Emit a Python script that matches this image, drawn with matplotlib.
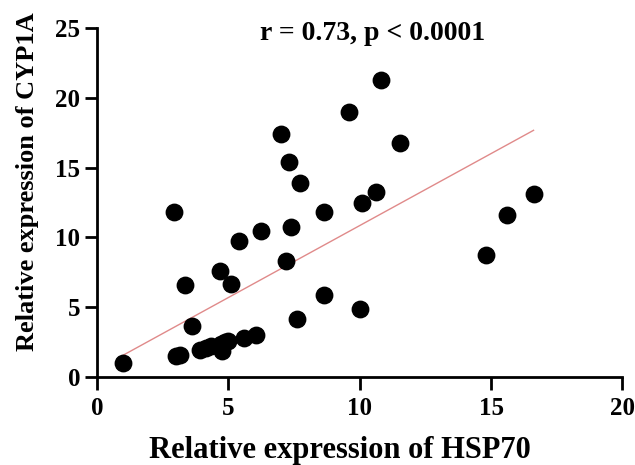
import numpy as np
import matplotlib.pyplot as plt

# HSP70 vs CYP1A relative expression
hsp70 = [0.98, 2.93, 3.0, 3.15, 3.33, 3.6, 3.9, 4.15, 4.35, 4.68, 4.7, 4.75, 4.85,
         5.0, 5.1, 5.41, 5.6, 6.05, 6.23, 7.0, 7.19, 7.32, 7.4, 7.63, 7.71, 8.64,
         8.64, 9.6, 10.0, 10.1, 10.62, 10.8, 11.55, 14.8, 15.61, 16.62]
cyp1a = [1.03, 11.8, 1.5, 1.55, 6.58, 3.66, 1.95, 2.05, 2.2, 7.6, 2.35, 1.9, 2.5,
         2.55, 6.65, 9.76, 2.8, 3.05, 10.48, 17.4, 8.33, 15.43, 10.77, 4.14, 13.9, 11.8,
         5.86, 18.97, 4.86, 12.5, 13.28, 21.24, 16.77, 8.73, 11.6, 13.11]

# regression line as shown in the figure
fit_slope = 1.03
fit_intercept = 0.55
stats_text = 'r = 0.73, p < 0.0001'

x = np.array(hsp70)
y = np.array(cyp1a)

plt.rcParams['font.family'] = 'Liberation Serif'
plt.rcParams['font.weight'] = 'bold'

fig = plt.figure(figsize=(6.35, 4.65), dpi=100)
ax = fig.add_axes([0.153, 0.189, 0.827, 0.751])

ax.scatter(x, y, s=140, color='black', zorder=3, clip_on=False)
xf = np.array([x.min(), x.max()])
ax.plot(xf, fit_slope * xf + fit_intercept, color='#e08a8a', lw=1.0, zorder=2)

ax.set_xlim(0, 20)
ax.set_ylim(0, 25)
ax.set_xticks([0, 5, 10, 15, 20])
ax.set_yticks([0, 5, 10, 15, 20, 25])
ax.spines['top'].set_visible(False)
ax.spines['right'].set_visible(False)
ax.spines['left'].set_linewidth(2.0)
ax.spines['bottom'].set_linewidth(2.0)
ax.tick_params(width=2.0, length=9, labelsize=18, pad=3)
ax.tick_params(axis='x', pad=5)

ax.set_xlabel('Relative expression of HSP70', fontsize=22, fontweight='bold')
ax.xaxis.set_label_coords(0.463, -0.17)
ax.set_ylabel('Relative expression of CYP1A', fontsize=19, fontweight='bold')
ax.yaxis.set_label_coords(-0.11, 0.56)
ax.text(0.525, 0.985, stats_text, transform=ax.transAxes, ha='center', va='center',
        fontsize=20, fontweight='bold')

fig.savefig('out.png', dpi=100)
